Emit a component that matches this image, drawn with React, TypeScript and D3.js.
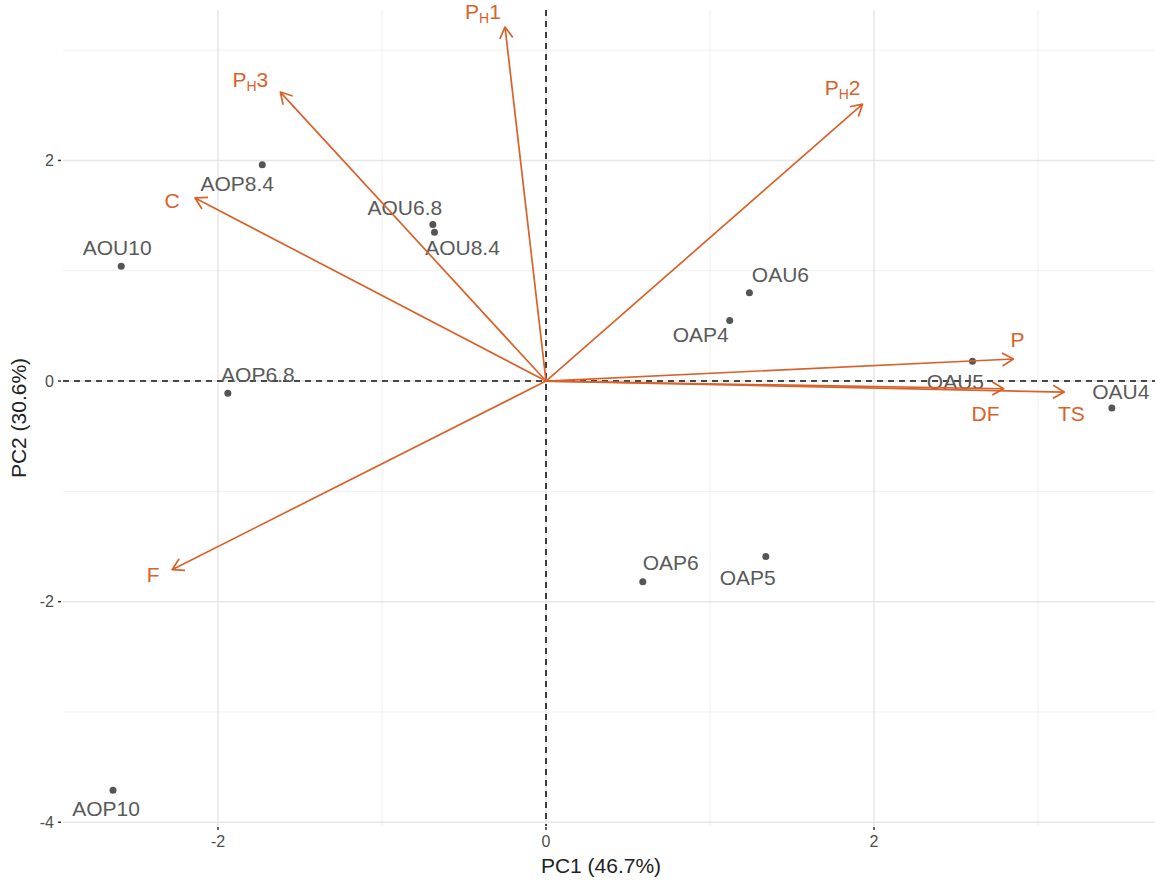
import { useEffect, useRef } from 'react'
import * as d3 from 'd3'

// sample scores (PC1, PC2)
const sampleNames = ['AOP8.4', 'AOU6.8', 'AOU8.4', 'AOU10', 'OAU6', 'OAP4', 'OAU5', 'OAU4', 'AOP6.8', 'OAP6', 'OAP5', 'AOP10']
const samplePC1 = [-1.73, -0.69, -0.68, -2.59, 1.24, 1.12, 2.60, 3.45, -1.94, 0.59, 1.34, -2.64]
const samplePC2 = [1.96, 1.42, 1.35, 1.04, 0.80, 0.55, 0.18, -0.245, -0.11, -1.82, -1.59, -3.71]
// label offset from point, px
const sampleLabelNudge: [number, number][] = [
  [-25, 19], [-28, -17], [28, 16], [-4, -19], [31, -18], [-29, 14],
  [-17, 20], [9, -16], [30, -19], [28, -19], [-18, 21], [-7, 18],
]

// variable loadings
const varMain = ['P', 'P', 'P', 'C', 'P', 'DF', 'TS', 'F']
const varSub = ['H', 'H', 'H', '', '', '', '', '']
const varTail = ['1', '3', '2', '', '', '', '', '']
const varPC1 = [-0.25, -1.62, 1.93, -2.14, 2.85, 2.79, 3.16, -2.28]
const varPC2 = [3.21, 2.62, 2.51, 1.66, 0.20, -0.07, -0.10, -1.71]
const varLabelNudge: [number, number][] = [
  [-22, -15], [-30, -12], [-20, -17], [-23, 3], [4, -19], [-18, 25], [7, 22], [-19, 5],
]

const xTicks = [-2, 0, 2]
const yTicks = [-4, -2, 0, 2]
const xMinor = [-1, 1, 3]
const yMinor = [-3, -1, 1, 3]

const W = 1155
const H = 881
const ARROW_COL = '#d9622b'
const FONT = 'Liberation Sans, Arial, sans-serif'

export default function App() {
  const svgRef = useRef<SVGSVGElement>(null)

  useEffect(() => {
    if (!svgRef.current) return
    const svg = d3.select(svgRef.current)
    svg.selectAll('*').remove()

    const left = 63, right = 1155, top = 10, bottom = 826
    const x = d3.scaleLinear().domain([-2.945, 3.713]).range([left, right])
    const y = d3.scaleLinear().domain([-4.034, 3.364]).range([bottom, top])

    svg.append('rect').attr('width', W).attr('height', H).attr('fill', 'white')

    const grid = svg.append('g')
    // minor grid
    grid.selectAll('.vminor').data(xMinor).enter().append('line')
      .attr('x1', d => x(d)).attr('x2', d => x(d)).attr('y1', top).attr('y2', bottom)
      .attr('stroke', '#f0f0f0').attr('stroke-width', 1)
    grid.selectAll('.hminor').data(yMinor).enter().append('line')
      .attr('y1', d => y(d)).attr('y2', d => y(d)).attr('x1', left).attr('x2', right)
      .attr('stroke', '#f0f0f0').attr('stroke-width', 1)
    // major grid
    grid.selectAll('.vmajor').data(xTicks).enter().append('line')
      .attr('x1', d => x(d)).attr('x2', d => x(d)).attr('y1', top).attr('y2', bottom)
      .attr('stroke', '#e6e6e6').attr('stroke-width', 1.5)
    grid.selectAll('.hmajor').data(yTicks).enter().append('line')
      .attr('y1', d => y(d)).attr('y2', d => y(d)).attr('x1', left).attr('x2', right)
      .attr('stroke', '#e6e6e6').attr('stroke-width', 1.5)

    // axes ticks
    const xAxis = svg.append('g')
    xTicks.forEach(t => {
      xAxis.append('line').attr('x1', x(t)).attr('x2', x(t)).attr('y1', bottom + 1).attr('y2', bottom + 4)
        .attr('stroke', '#333').attr('stroke-width', 1.5)
      xAxis.append('text').attr('x', x(t)).attr('y', bottom + 21).attr('text-anchor', 'middle')
        .style('font-family', FONT).style('font-size', '16px').style('fill', '#4d4d4d')
        .text(`${t}`)
    })
    const yAxis = svg.append('g')
    yTicks.forEach(t => {
      yAxis.append('line').attr('x1', left - 5).attr('x2', left - 2).attr('y1', y(t)).attr('y2', y(t))
        .attr('stroke', '#333').attr('stroke-width', 1.5)
      yAxis.append('text').attr('x', left - 9).attr('y', y(t)).attr('dy', '0.35em').attr('text-anchor', 'end')
        .style('font-family', FONT).style('font-size', '16px').style('fill', '#4d4d4d')
        .text(`${t}`)
    })

    // axis titles
    svg.append('text').attr('x', (left + right) / 2 - 8).attr('y', 873).attr('text-anchor', 'middle')
      .style('font-family', FONT).style('font-size', '21px').style('fill', '#222')
      .text('PC1 (46.7%)')
    svg.append('text').attr('transform', `translate(26,${(top + bottom) / 2}) rotate(-90)`)
      .attr('text-anchor', 'middle')
      .style('font-family', FONT).style('font-size', '21px').style('fill', '#222')
      .text('PC2 (30.6%)')

    // reference lines
    svg.append('line').attr('x1', left).attr('x2', right).attr('y1', y(0)).attr('y2', y(0))
      .attr('stroke', '#111').attr('stroke-width', 1.6).attr('stroke-dasharray', '6,5')
    svg.append('line').attr('x1', x(0)).attr('x2', x(0)).attr('y1', top).attr('y2', bottom)
      .attr('stroke', '#111').attr('stroke-width', 1.6).attr('stroke-dasharray', '6,5')

    // points
    const pts = d3.range(sampleNames.length)
    svg.append('g').selectAll('circle').data(pts).enter().append('circle')
      .attr('cx', i => x(samplePC1[i])).attr('cy', i => y(samplePC2[i])).attr('r', 3.5)
      .attr('fill', '#555')
    svg.append('g').selectAll('text').data(pts).enter().append('text')
      .attr('x', i => x(samplePC1[i]) + sampleLabelNudge[i][0])
      .attr('y', i => y(samplePC2[i]) + sampleLabelNudge[i][1])
      .attr('dy', '0.35em').attr('text-anchor', 'middle')
      .style('font-family', FONT).style('font-size', '21px').style('fill', '#5a5a5a')
      .text(i => sampleNames[i])

    // arrows
    const x0 = x(0), y0 = y(0)
    const headLen = 13, headAng = Math.PI / 6
    const vars = d3.range(varMain.length)
    const ag = svg.append('g')
    vars.forEach(i => {
      const x1 = x(varPC1[i]), y1 = y(varPC2[i])
      const ang = Math.atan2(y1 - y0, x1 - x0)
      const p = d3.path()
      p.moveTo(x0, y0)
      p.lineTo(x1, y1)
      p.moveTo(x1 - headLen * Math.cos(ang - headAng), y1 - headLen * Math.sin(ang - headAng))
      p.lineTo(x1, y1)
      p.lineTo(x1 - headLen * Math.cos(ang + headAng), y1 - headLen * Math.sin(ang + headAng))
      ag.append('path').attr('d', p.toString()).attr('fill', 'none')
        .attr('stroke', ARROW_COL).attr('stroke-width', 1.7).attr('stroke-linejoin', 'round')

      const t = ag.append('text')
        .attr('x', x1 + varLabelNudge[i][0]).attr('y', y1 + varLabelNudge[i][1])
        .attr('dy', '0.35em').attr('text-anchor', 'middle')
        .style('font-family', FONT).style('font-size', '21px').style('fill', ARROW_COL)
      t.append('tspan').text(varMain[i])
      if (varSub[i]) {
        t.append('tspan').attr('dy', 4).style('font-size', '14px').text(varSub[i])
        t.append('tspan').attr('dy', -4).text(varTail[i])
      }
    })
  }, [])

  return (
    <svg
      ref={svgRef}
      width={W}
      height={H}
      style={{ position: 'absolute', left: 0, top: 0 }}
    />
  )
}
